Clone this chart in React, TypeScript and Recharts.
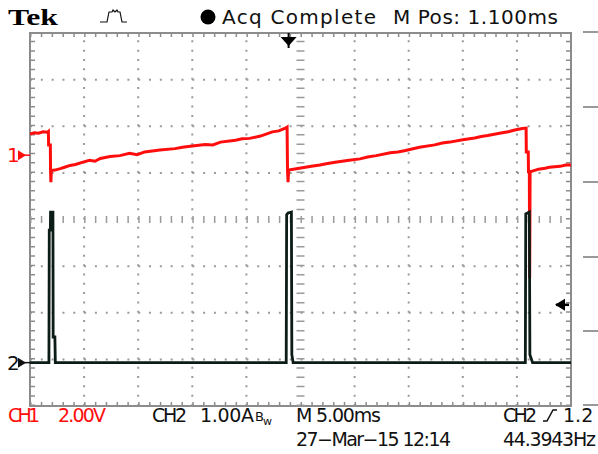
import React from 'react';
import { LineChart, Line, XAxis, YAxis, ReferenceLine, ReferenceArea, ReferenceDot } from 'recharts';

// time in ms (5 ms/div, 10 div across), level in screen divisions (8 div tall, 0 = centre)
const ch1Time = [
  0, 0.4, 0.8, 1.2, 1.6, 1.7, 1.72, 1.88, 1.9, 1.93, 1.97,
  2.3, 2.8, 3.2, 3.7, 4.2, 4.9, 5.5, 6.0, 6.5, 7.4, 8.3, 9.2, 9.9, 10.6, 11.3, 12.0, 13.4, 14.1, 14.8, 16.2,
  16.9, 17.6, 19.0, 19.6, 20.3, 21.3, 22.4, 23.0, 23.7, 23.76, 23.8, 23.85, 23.9,
  24.9, 26.0, 26.8, 27.5, 28.2, 29.5, 30.5, 31.2, 32.0, 33.3, 34.0, 34.7, 36.0, 37.4, 38.1, 38.8, 40.0, 41.1,
  41.7, 42.3, 43.4, 44.2, 44.8, 45.5, 45.85, 45.87, 46.05, 46.07, 46.15, 46.18, 46.22,
  47.0, 47.6, 48.0, 49.0, 49.5, 50.0,
];
const ch1Div = [
  1.83, 1.86, 1.85, 1.88, 1.87, 1.89, 1.6, 1.6, 1.05, 0.8, 1.05,
  1.06, 1.09, 1.12, 1.16, 1.18, 1.23, 1.27, 1.25, 1.31, 1.35, 1.37, 1.42, 1.39, 1.45, 1.47, 1.49, 1.52, 1.55, 1.57, 1.61,
  1.6, 1.66, 1.7, 1.73, 1.74, 1.79, 1.88, 1.9, 1.97, 1.98, 1.06, 0.8, 1.06,
  1.1, 1.14, 1.17, 1.2, 1.23, 1.27, 1.3, 1.34, 1.37, 1.43, 1.45, 1.48, 1.55, 1.6, 1.64, 1.66, 1.71, 1.75,
  1.78, 1.8, 1.85, 1.88, 1.92, 1.95, 1.96, 1.45, 1.45, 1.03, 1.03, -1.26, 1.02,
  1.08, 1.1, 1.12, 1.14, 1.17, 1.17,
];
const ch2Time = [
  0, 1.75, 1.78, 1.88, 1.9, 2.12, 2.14, 2.3, 2.34,
  23.68, 23.72, 23.85, 24.16, 24.2, 24.32,
  45.78, 45.82, 46.15, 46.2, 46.45, 50,
];
const ch2Div = [
  -3.07, -3.07, -0.23, -0.23, 0.16, 0.16, -2.52, -2.52, -3.07,
  -3.07, 0.1, 0.14, 0.16, -2.9, -3.07,
  -3.07, 0.12, 0.16, -2.9, -3.07, -3.07,
];

const CH1_GROUND = 1.38;
const CH2_GROUND = -3.07;
const TRIG_LEVEL = 1.24; // div above ch2 ground
const TRIG_POS = 23.9; // ms
const xGrid = [5, 10, 15, 20, 30, 35, 40, 45];
const yGrid = [-3, -2, -1, 1, 2, 3];

const ch1Data = ch1Time.map((t, i) => ({ t, v: ch1Div[i] }));
const ch2Data = ch2Time.map((t, i) => ({ t, v: ch2Div[i] }));

const RED = '#ff0d0d';
const TRACE2 = '#0c1d17';
const GRID = '#9a9a9a';
const FRAME = '#8c8c8c';
const FONT = 'DejaVu Sans';

const channelMark = (label: string, color: string) => (p: any) => (
  <g>
    <text x={p.cx - 23} y={p.cy + 7} fontSize={20} fill={color} fontFamily={FONT}>{label}</text>
    <path d={`M${p.cx - 12},${p.cy - 5} L${p.cx - 4},${p.cy} L${p.cx - 12},${p.cy + 5} Z`} fill={color} />
    <line x1={p.cx - 12} x2={p.cx} y1={p.cy} y2={p.cy} stroke={color} strokeWidth={1.5} />
  </g>
);

const trigPosMark = (p: any) => (
  <g>
    <line x1={p.cx} x2={p.cx} y1={p.cy} y2={p.cy + 15} stroke="#000" strokeWidth={2} />
    <path d={`M${p.cx - 8},${p.cy + 4} L${p.cx + 8},${p.cy + 4} L${p.cx},${p.cy + 13} Z`} fill="#000" />
  </g>
);

const trigLevelMark = (p: any) => (
  <g>
    <line x1={p.cx - 15} x2={p.cx - 2} y1={p.cy} y2={p.cy} stroke="#000" strokeWidth={2.5} />
    <path d={`M${p.cx - 16},${p.cy} L${p.cx - 6},${p.cy - 6} L${p.cx - 6},${p.cy + 6} Z`} fill="#000" />
  </g>
);

export default function App() {
  return (
    <div style={{ position: 'absolute', left: 0, top: 0, width: 598, height: 454, background: '#fff', overflow: 'hidden' }}>
      <LineChart width={598} height={454} margin={{ top: 33, right: 27, bottom: 48, left: 30 }}>
        <XAxis type="number" dataKey="t" domain={[0, 50]} hide allowDataOverflow />
        <YAxis type="number" dataKey="v" domain={[-4, 4]} hide allowDataOverflow />
        {xGrid.map((x) => (
          <ReferenceLine key={'x' + x} x={x} stroke={GRID} strokeWidth={2} strokeDasharray="2 7.325" />
        ))}
        {yGrid.map((y) => (
          <ReferenceLine key={'y' + y} y={y} stroke={GRID} strokeWidth={2} strokeDasharray="2 8.82" />
        ))}
        <ReferenceLine y={0} stroke={GRID} strokeWidth={7} strokeDasharray="1.5 9.32" />
        <ReferenceLine x={25} stroke={GRID} strokeWidth={8} strokeDasharray="1.5 7.825" />
        <ReferenceLine y={3.955} stroke={FRAME} strokeWidth={4} strokeDasharray="1.5 9.32" />
        <ReferenceLine y={-3.955} stroke={FRAME} strokeWidth={4} strokeDasharray="1.5 9.32" />
        <ReferenceLine x={0.23} stroke={FRAME} strokeWidth={5} strokeDasharray="1.5 7.825" />
        <ReferenceLine x={49.77} stroke={FRAME} strokeWidth={5} strokeDasharray="1.5 7.825" />
        <ReferenceArea x1={0} x2={50} y1={-4} y2={4} fill="none" stroke={FRAME} strokeWidth={2} ifOverflow="visible" />
        <Line data={ch1Data} dataKey="v" type="linear" stroke={RED} strokeWidth={3} dot={false} isAnimationActive={false} />
        <Line data={ch2Data} dataKey="v" type="linear" stroke={TRACE2} strokeWidth={2.8} dot={false} isAnimationActive={false} />
        <ReferenceDot x={0} y={CH1_GROUND} ifOverflow="visible" shape={channelMark('1', RED)} />
        <ReferenceDot x={0} y={CH2_GROUND} ifOverflow="visible" shape={channelMark('2', '#111')} />
        <ReferenceDot x={TRIG_POS} y={4} ifOverflow="visible" shape={trigPosMark} />
        <ReferenceDot x={50} y={CH2_GROUND + TRIG_LEVEL} ifOverflow="visible" shape={trigLevelMark} />
      </LineChart>
      <svg width={598} height={454} style={{ position: 'absolute', left: 0, top: 0, pointerEvents: 'none' }}>
        <text x={8} y={25} fontFamily="Liberation Serif" fontWeight="bold" fontSize={24} textLength={50} lengthAdjust="spacingAndGlyphs">Tek</text>
        <path d="M100,22 L107,22 L109,12 L112,12 L113,10 L115,12 L117,10 L118,12 L120,12 L122,22 L127,22" fill="none" stroke="#111" strokeWidth={1.2} />
        <circle cx={208} cy={17} r={7.5} fill="#000" />
        <text x={222} y={24} fontFamily={FONT} fontSize={20} textLength={154} fill="#111">Acq Complete</text>
        <text x={393} y={24} fontFamily={FONT} fontSize={20} textLength={165} fill="#111">M Pos: 1.100ms</text>
        {[32, 107, 182, 257, 331, 405].map((y) => (
          <line key={y} x1={583} x2={598} y1={y} y2={y} stroke="#777" strokeWidth={1.5} />
        ))}
        <text x={8} y={422} fontFamily={FONT} fontSize={19} textLength={32} fill={RED}>CH1</text>
        <text x={58} y={422} fontFamily={FONT} fontSize={19} textLength={48} fill={RED}>2.00V</text>
        <text x={152} y={422} fontFamily={FONT} fontSize={19} textLength={35} fill="#111">CH2</text>
        <text x={200} y={422} fontFamily={FONT} fontSize={19} textLength={54} fill="#111">1.00A</text>
        <text x={255} y={421} fontFamily={FONT} fontSize={13} fill="#111">B</text>
        <text x={263} y={425} fontFamily={FONT} fontSize={11} fill="#111">w</text>
        <text x={296} y={422} fontFamily={FONT} fontSize={19} textLength={85} fill="#111">M 5.00ms</text>
        <text x={503} y={422} fontFamily={FONT} fontSize={19} textLength={34} fill="#111">CH2</text>
        <path d="M543,421 L547,421 L553,410 L557,410" fill="none" stroke="#111" strokeWidth={1.5} />
        <text x={563} y={422} fontFamily={FONT} fontSize={19} fill="#111">1.2</text>
        <text x={296} y={446} fontFamily={FONT} fontSize={19} textLength={155} fill="#111">27−Mar−15 12:14</text>
        <text x={503} y={446} fontFamily={FONT} fontSize={19} textLength={93} fill="#111">44.3943Hz</text>
      </svg>
    </div>
  );
}
